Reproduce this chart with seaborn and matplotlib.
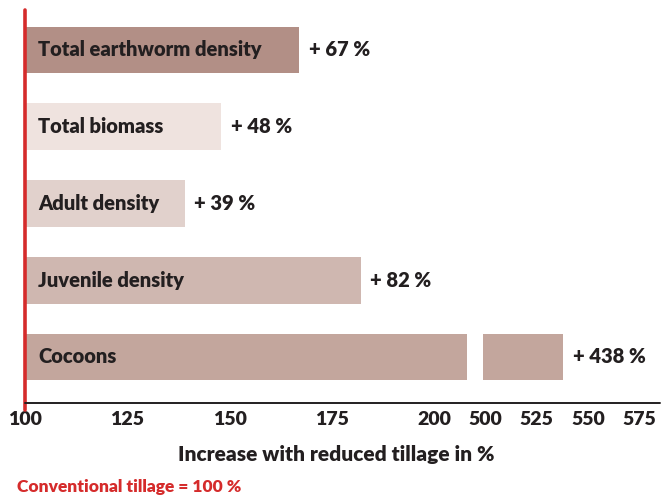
import matplotlib
matplotlib.use("Agg")
import matplotlib.pyplot as plt
from matplotlib.lines import Line2D
import seaborn as sns
import numpy as np

# Data
categories = ["Total earthworm density", "Total biomass", "Adult density",
              "Juvenile density", "Cocoons"]
increase = [67, 48, 39, 82, 438]          # % increase with reduced tillage
baseline = 100                            # conventional tillage = 100 %
bar_colors = ["#b98a7f", "#f2e1dc", "#e5cfc8", "#d4b4ab", "#c9a297"]

left_ticks = [100, 125, 150, 175, 200]
right_ticks = [500, 525, 550, 575]

totals = [baseline + v for v in increase]

TXT = "#231f20"
RED = "#d52b2b"
FONT = ["Lato", "DejaVu Sans"]
WEIGHT = 800

sns.set_theme(style="white")
plt.rcParams["font.family"] = FONT

fig = plt.figure(figsize=(6.71, 4.96), dpi=100)
W, H = 671, 496

def px_axes(x0, x1, y_top, y_bot):
    return fig.add_axes([x0 / W, 1 - y_bot / H, (x1 - x0) / W, (y_bot - y_top) / H])

ax1 = px_axes(25, 467, 10, 403)
ax2 = px_axes(483, 660, 10, 403)

# broken axis: left segment 100-208, right segment 499-585
break_lo, break_hi = 208, 499

for ax in (ax1, ax2):
    sns.barplot(x=totals, y=categories, hue=categories, palette=bar_colors,
                orient="h", width=0.61, linewidth=0, legend=False, ax=ax)
    ax.set_ylim(4.6, -0.52)
    ax.set_xlabel("")
    ax.set_ylabel("")
    ax.set_yticks([])
    for s in ax.spines.values():
        s.set_visible(False)
    ax.tick_params(axis="x", length=0, pad=6, labelsize=14, colors=TXT)
    ax.set_facecolor("none")

ax1.set_xlim(baseline, break_lo)
ax2.set_xlim(break_hi, 585)
ax1.set_xticks(left_ticks)
ax2.set_xticks(right_ticks)
for ax in (ax1, ax2):
    for lab in ax.get_xticklabels():
        lab.set_fontweight(WEIGHT)

# category names inside the bars
for i, name in enumerate(categories):
    ax1.annotate(name, xy=(baseline, i), xytext=(9.5, 0), textcoords="offset points",
                 ha="left", va="center", fontsize=14.5, fontweight=WEIGHT, color=TXT)

# value labels after the bar ends
for i, (tot, inc) in enumerate(zip(totals, increase)):
    ax = ax1 if tot <= break_lo else ax2
    ax.annotate(f"+ {inc} %", xy=(tot, i), xytext=(7, 0), textcoords="offset points",
                ha="left", va="center", fontsize=14.5, fontweight=WEIGHT, color=TXT,
                annotation_clip=False)

# red baseline at 100 %
ax1.axvline(baseline, ymin=-0.018, ymax=1, color=RED, lw=2.6, clip_on=False, zorder=5)

# continuous bottom axis line across the break
fig.add_artist(Line2D([25 / W, 660 / W], [1 - 403 / H, 1 - 403 / H],
                      color=TXT, lw=1.4))

fig.text(336 / W, 1 - 454 / H, "Increase with reduced tillage in %",
         ha="center", va="center", fontsize=15, fontweight=WEIGHT, color=TXT)
fig.text(17 / W, 1 - 487 / H, "Conventional tillage = 100 %",
         ha="left", va="center", fontsize=12.5, fontweight=WEIGHT, color=RED)

fig.savefig("out.png", dpi=100, facecolor="white")
